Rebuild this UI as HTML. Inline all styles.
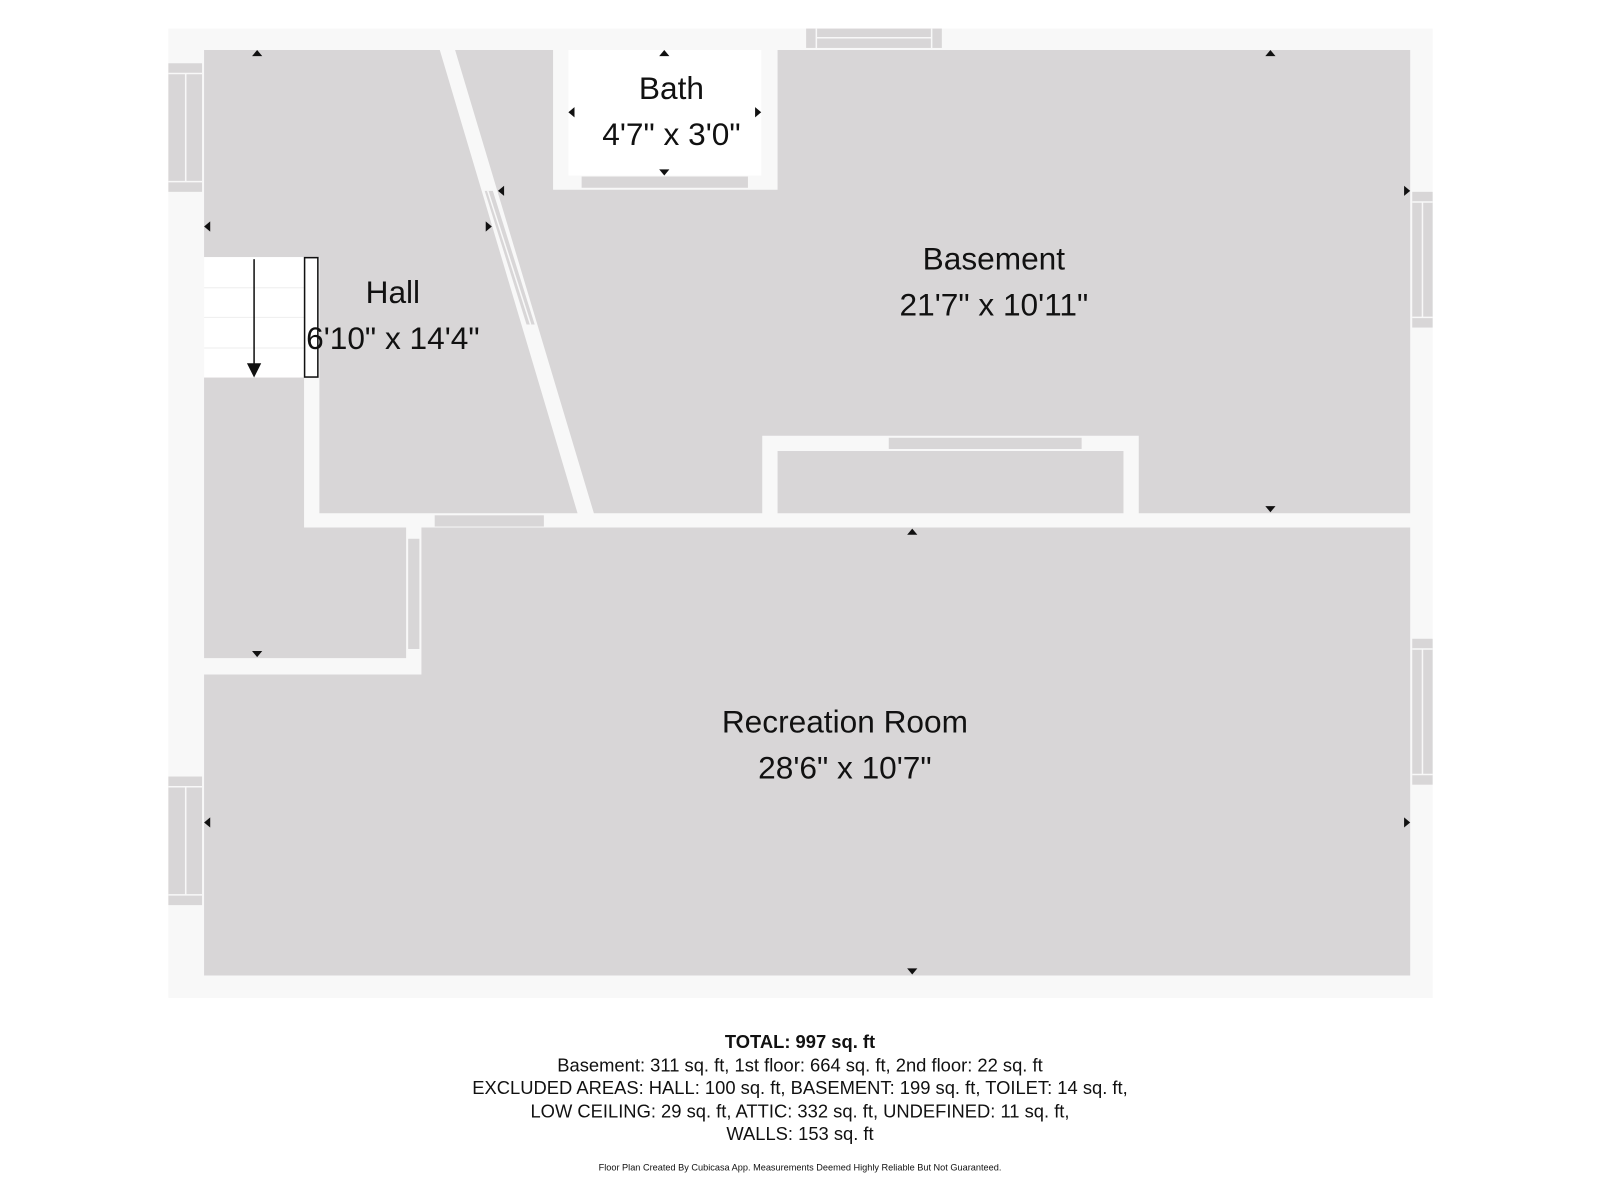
<!DOCTYPE html>
<html><head><meta charset="utf-8"><style>
html,body{margin:0;padding:0;background:#fff;}
svg{display:block;}
text{font-family:"Liberation Sans",sans-serif;fill:#111;}
</style></head><body>
<svg width="1600" height="1200" viewBox="0 0 1568 1176" preserveAspectRatio="none" xmlns="http://www.w3.org/2000/svg">
<rect width="1568" height="1176" fill="#fff"/>
<rect x="165" y="28" width="1239" height="950" fill="#f8f8f8"/>
<g fill="#d8d6d7">
<polygon points="200,49 431,49 566,503 313,503 313,252 200,252"/>
<polygon points="200,370 298,370 298,517 398,517 398,645 200,645"/>
<polygon points="446,49 542,49 542,186 762,186 762,49 1382,49 1382,503 1116,503 1116,427 747,427 747,503 582,503"/>
<rect x="762" y="442" width="339" height="61"/>
<polygon points="413,517 1382,517 1382,956 200,956 200,661 413,661"/>
<rect x="426" y="505" width="107" height="11"/>
<rect x="400" y="528" width="11" height="108"/>
<rect x="871" y="429" width="189" height="11"/>
<rect x="570" y="173" width="163" height="11"/>
<polygon points="475,187 483,187 524,318 516,318"/>
<rect x="165" y="62" width="33" height="126"/>
<rect x="165" y="761" width="33" height="126"/>
<rect x="790" y="28" width="133" height="19"/>
<rect x="1384" y="188" width="20" height="133"/>
<rect x="1384" y="626" width="20" height="143"/>
</g>
<rect x="557" y="49" width="189" height="123" fill="#fff"/>
<g stroke="#f8f8f8" stroke-width="1.5" fill="none">
<path d="M165,72H198M165,178H198M182,72V178"/>
<path d="M165,771H198M165,877H198M182,771V877"/>
<path d="M800,28V47M913,28V47M800,37H913"/>
<path d="M1384,198H1404M1384,311H1404M1394,198V311"/>
<path d="M1384,636H1404M1384,759H1404M1394,636V759"/>
<path d="M478,187L520,318"/>
</g>
<rect x="200" y="252" width="98" height="118" fill="#fff"/>
<g stroke="#eee" stroke-width="1"><path d="M200,282H298M200,311H298M200,341H298"/></g>
<rect x="298.5" y="252.5" width="13" height="117" fill="#fff" stroke="#111" stroke-width="1.5"/>
<path d="M249,254V358" stroke="#111" stroke-width="1.5"/>
<polygon points="242,356 256,356 249,370" fill="#111"/>
<g fill="#111">
<polygon points="247,55 257,55 252,49"/>
<polygon points="646,55 656,55 651,49"/>
<polygon points="1240,55 1250,55 1245,49"/>
<polygon points="889,524 899,524 894,518"/>
<polygon points="247,638 257,638 252,644"/>
<polygon points="646,166 656,166 651,172"/>
<polygon points="1240,496 1250,496 1245,502"/>
<polygon points="889,949 899,949 894,955"/>
<polygon points="206,217 206,227 200,222"/>
<polygon points="563,105 563,115 557,110"/>
<polygon points="494,182 494,192 488,187"/>
<polygon points="206,801 206,811 200,806"/>
<polygon points="476,217 476,227 482,222"/>
<polygon points="740,105 740,115 746,110"/>
<polygon points="1376,182 1376,192 1382,187"/>
<polygon points="1376,801 1376,811 1382,806"/>
</g>
<g font-size="31" text-anchor="middle">
<text x="658" y="97">Bath</text>
<text x="658" y="142">4'7" x 3'0"</text>
<text x="385" y="297">Hall</text>
<text x="385" y="342">6'10" x 14'4"</text>
<text x="974" y="264">Basement</text>
<text x="974" y="309">21'7" x 10'11"</text>
<text x="828" y="718">Recreation Room</text>
<text x="828" y="763">28'6" x 10'7"</text>
</g>
<g font-size="18" text-anchor="middle">
<text x="784" y="1027" font-weight="bold">TOTAL: 997 sq. ft</text>
<text x="784" y="1050">Basement: 311 sq. ft, 1st floor: 664 sq. ft, 2nd floor: 22 sq. ft</text>
<text x="784" y="1072">EXCLUDED AREAS: HALL: 100 sq. ft, BASEMENT: 199 sq. ft, TOILET: 14 sq. ft,</text>
<text x="784" y="1095">LOW CEILING: 29 sq. ft, ATTIC: 332 sq. ft, UNDEFINED: 11 sq. ft,</text>
<text x="784" y="1117">WALLS: 153 sq. ft</text>
<text x="784" y="1147" font-size="9">Floor Plan Created By Cubicasa App. Measurements Deemed Highly Reliable But Not Guaranteed.</text>
</g>
</svg>
</body></html>
